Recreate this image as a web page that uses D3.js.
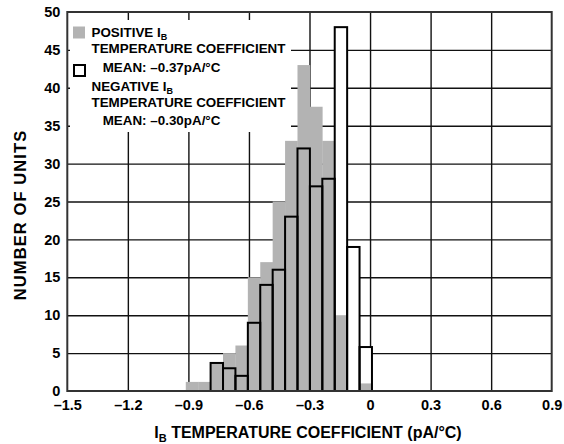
<!DOCTYPE html>
<html><head><meta charset="utf-8">
<script src="https://cdn.jsdelivr.net/npm/d3@7"></script>
<style>
body{margin:0;background:#fff;}
svg{display:block;font-family:"Liberation Sans",Arial,Helvetica,sans-serif;font-weight:bold;}
</style></head>
<body><svg id="c" width="564" height="444"></svg>
<script>
// ---- data ----
const binStart = -0.913;   // left edge of first bin (pA/°C)
const binWidth = 0.0615;   // bin width (pA/°C)
const positiveCounts = [1.2, 1.2, 3.7, 5, 6, 15, 17, 25, 33, 43, 37.5, 33, 10, 0, 1];
const negativeCounts = [0, 0, 3.7, 3, 2, 9, 14, 16, 23, 32, 27, 28, 48, 19, 5.8];
const xTicks = [-1.5, -1.2, -0.9, -0.6, -0.3, 0, 0.3, 0.6, 0.9];
const xTickLabels = ["–1.5", "–1.2", "–0.9", "–0.6", "–0.3", "0", "0.3", "0.6", "0.9"];
const yTicks = [0, 5, 10, 15, 20, 25, 30, 35, 40, 45, 50];

// ---- layout ----
const svg = d3.select("#c");
const L = 67.3, R = 551.7, T = 12, B = 391;
const x = d3.scaleLinear().domain([-1.5, 0.9]).range([L, R]);
const y = d3.scaleLinear().domain([0, 50]).range([B, T]);

// gridlines
const gx = svg.append("g").attr("transform", `translate(0,${B})`)
  .call(d3.axisBottom(x).tickValues(xTicks.slice(1, -1)).tickSize(-(B - T)).tickFormat(""));
gx.select(".domain").remove();
gx.selectAll("line").attr("stroke", "#111").attr("stroke-width", 1.4);
const gy = svg.append("g").attr("transform", `translate(${L},0)`)
  .call(d3.axisLeft(y).tickValues(yTicks.slice(1, -1)).tickSize(-(R - L)).tickFormat(""));
gy.select(".domain").remove();
gy.selectAll("line").attr("stroke", "#111").attr("stroke-width", 1.4);

const bins = positiveCounts.map((p, i) => ({
  x0: binStart + i * binWidth, x1: binStart + (i + 1) * binWidth,
  pos: p, neg: negativeCounts[i]
}));

// negative bars: white fill (hide gridlines)
svg.append("g").selectAll("rect").data(bins.filter(d => d.neg > 0)).join("rect")
  .attr("x", d => x(d.x0)).attr("width", d => x(d.x1) - x(d.x0))
  .attr("y", d => y(d.neg)).attr("height", d => y(0) - y(d.neg))
  .attr("fill", "#fff");
// positive bars: gray
svg.append("g").selectAll("rect").data(bins.filter(d => d.pos > 0)).join("rect")
  .attr("x", d => x(d.x0)).attr("width", d => x(d.x1) - x(d.x0) + 0.3)
  .attr("y", d => y(d.pos)).attr("height", d => y(0) - y(d.pos))
  .attr("fill", "#b3b3b3");
// negative bars: outlines
svg.append("g").selectAll("rect").data(bins.filter(d => d.neg > 0)).join("rect")
  .attr("x", d => x(d.x0)).attr("width", d => x(d.x1) - x(d.x0))
  .attr("y", d => y(d.neg)).attr("height", d => y(0) - y(d.neg))
  .attr("fill", "none").attr("stroke", "#000").attr("stroke-width", 2);

// frame
svg.append("rect").attr("x", L).attr("y", T).attr("width", R - L).attr("height", B - T)
  .attr("fill", "none").attr("stroke", "#333").attr("stroke-width", 2);

// axes labels
const ax = svg.append("g").attr("transform", `translate(0,${B})`)
  .call(d3.axisBottom(x).tickValues(xTicks).tickSize(0).tickPadding(9)
    .tickFormat((d, i) => xTickLabels[i]));
ax.select(".domain").remove();
ax.selectAll("text").attr("font-size", 14.5).attr("font-weight", "bold").attr("fill", "#000")
  .attr("font-family", "Liberation Sans, Arial, sans-serif");
const ay = svg.append("g").attr("transform", `translate(${L},0)`)
  .call(d3.axisLeft(y).tickValues(yTicks).tickSize(0).tickPadding(7));
ay.select(".domain").remove();
ay.selectAll("text").attr("font-size", 14.5).attr("font-weight", "bold").attr("fill", "#000")
  .attr("font-family", "Liberation Sans, Arial, sans-serif");

// axis titles
const xt = svg.append("text").attr("x", 308).attr("y", 438).attr("text-anchor", "middle")
  .attr("font-size", 16);
xt.append("tspan").text("I");
xt.append("tspan").attr("font-size", 11).attr("dy", 4).text("B");
xt.append("tspan").attr("dy", -4).text(" TEMPERATURE COEFFICIENT (pA/°C)");
svg.append("text").attr("transform", "translate(25.5,215) rotate(-90)")
  .attr("text-anchor", "middle").attr("font-size", 16.5).attr("letter-spacing", 1.1)
  .text("NUMBER OF UNITS");

// legend
const lg = svg.append("g");
lg.append("rect").attr("x", 70).attr("y", 20).attr("width", 221).attr("height", 112).attr("fill", "#fff");
lg.append("rect").attr("x", 73).attr("y", 26.5).attr("width", 12).attr("height", 12).attr("fill", "#b3b3b3");
lg.append("rect").attr("x", 74).attr("y", 65).attr("width", 11).attr("height", 11)
  .attr("fill", "#fff").attr("stroke", "#000").attr("stroke-width", 2);
const fs = 13.4;
function subLine(yy, main) {
  const t = lg.append("text").attr("x", 91.5).attr("y", yy).attr("font-size", fs);
  t.append("tspan").text(main);
  t.append("tspan").attr("font-size", 9).attr("dy", 3).text("B");
}
subLine(36.7, "POSITIVE I");
lg.append("text").attr("x", 91.5).attr("y", 52.7).attr("font-size", fs).text("TEMPERATURE COEFFICIENT");
lg.append("text").attr("x", 102.7).attr("y", 71.7).attr("font-size", fs).text("MEAN: –0.37pA/°C");
subLine(90.7, "NEGATIVE I");
lg.append("text").attr("x", 91.5).attr("y", 106.7).attr("font-size", fs).text("TEMPERATURE COEFFICIENT");
lg.append("text").attr("x", 102.7).attr("y", 125).attr("font-size", fs).text("MEAN: –0.30pA/°C");
</script></body></html>
